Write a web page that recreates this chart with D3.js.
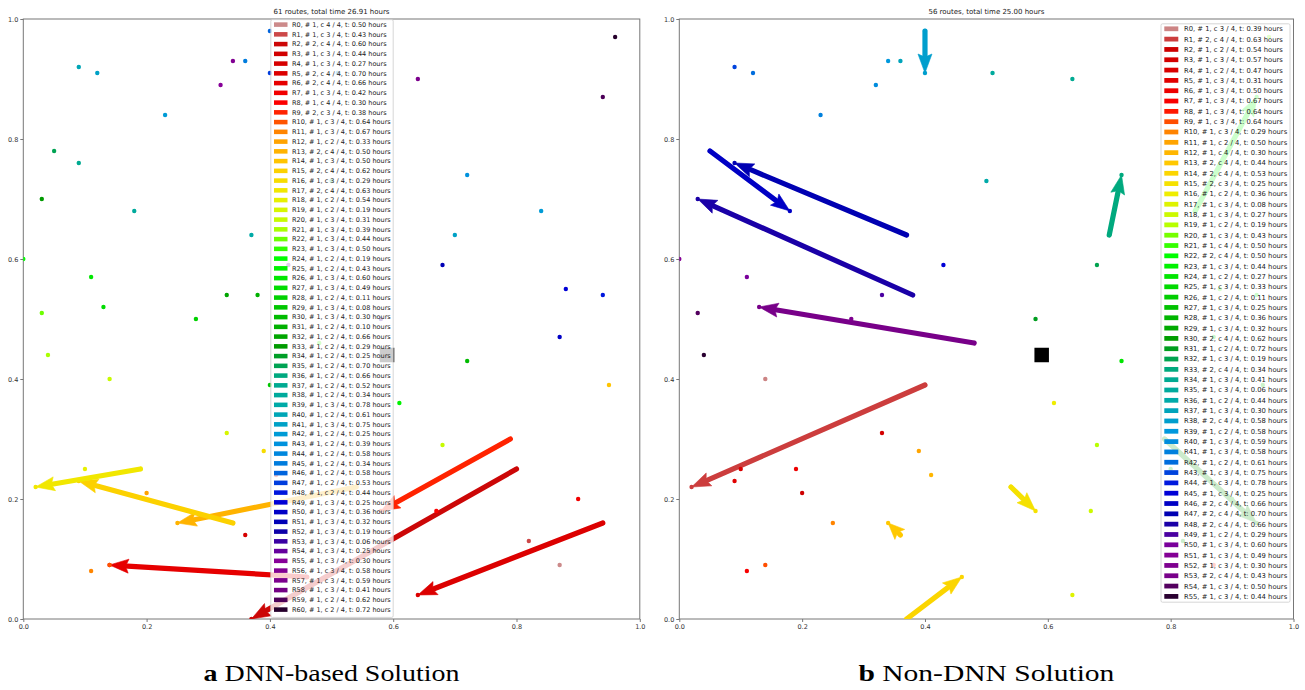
<!DOCTYPE html>
<html><head><meta charset="utf-8">
<script src="https://cdn.jsdelivr.net/npm/d3@7"></script>
<style>body{margin:0;background:#fff;} svg{display:block;}</style>
</head><body>
<svg id="chart" width="1305" height="690"></svg>
<script>
// ---------------- data ----------------
const tickValues = [0, 0.2, 0.4, 0.6, 0.8, 1.0];
const depot = [0.59, 0.44];

// Left panel: DNN-based solution
const leftTitle = "61 routes, total time 26.91 hours";
const leftCaptionTag = "a", leftCaption = "DNN-based Solution";
const leftNum  = [1,1,2,1,1,2,2,1,1,2, 1,1,1,2,1,2,1,2,1,1, 1,1,1,1,1,1,1,1,1,1, 1,1,1,1,1,1,1,1,1,1, 1,1,1,1,1,1,1,1,1,1, 1,1,1,1,1,1,1,1,1,1, 1];
const leftCap  = [4,3,4,3,3,4,4,3,4,3, 3,3,2,4,3,4,3,4,2,2, 3,3,3,3,2,2,3,3,2,3, 3,2,2,2,2,2,2,2,2,3, 2,3,2,2,2,2,2,2,2,3, 3,3,3,3,3,3,3,3,3,2, 2];
const leftTime = [0.50,0.43,0.60,0.44,0.27,0.70,0.66,0.42,0.30,0.38, 0.64,0.67,0.33,0.50,0.50,0.62,0.29,0.63,0.54,0.19,
                  0.31,0.39,0.44,0.50,0.19,0.43,0.60,0.49,0.11,0.08, 0.30,0.10,0.66,0.29,0.25,0.70,0.66,0.52,0.34,0.78,
                  0.61,0.75,0.25,0.39,0.58,0.34,0.58,0.53,0.44,0.25, 0.36,0.32,0.19,0.06,0.25,0.30,0.58,0.59,0.41,0.62, 0.72];
const leftPtX = [0.40,0.36,0.34,0.32,0.40,0.09,0.12,0.23,0.05,0.09,0.03,0.18,0.37,0.00,0.11,0.03,0.13,0.33,0.38,0.28,
                 0.04,0.14,0.40,0.33,0.39,0.10,0.20,0.36,0.11,0.14,0.43,0.48,0.41,0.51,0.50,0.58,0.64,0.72,0.70,0.68,
                 0.88,0.94,0.87,0.72,0.95,0.61,0.68,0.90,0.82,0.87,0.96,0.94,0.84,0.67];
const leftPtY = [0.98,0.93,0.93,0.89,0.91,0.92,0.91,0.84,0.78,0.76,0.70,0.68,0.64,0.60,0.57,0.51,0.52,0.54,0.54,0.50,
                 0.44,0.40,0.39,0.31,0.28,0.25,0.21,0.14,0.08,0.09,0.59,0.46,0.24,0.91,0.73,0.50,0.90,0.74,0.64,0.59,
                 0.55,0.54,0.47,0.43,0.39,0.36,0.29,0.20,0.13,0.09,0.97,0.87,0.68,0.18];
const leftPtR = [46,45,56,55,47,40,41,42,35,37,33,38,39,24,26,22,27,32,31,28,
                 21,20,29,19,16,18,12,4,11,10,54,23,3,44,36,53,57,43,41,51,
                 49,48,50,30,14,25,20,7,1,0,60,59,42,8];
const leftArrR  = [2, 5, 6, 9, 13, 15, 17];
const leftArrX1 = [0.80,0.94,0.46,0.79,0.54,0.34,0.19];
const leftArrY1 = [0.25,0.16,0.07,0.30,0.22,0.16,0.25];
const leftArrX2 = [0.37,0.64,0.14,0.58,0.25,0.09,0.02];
const leftArrY2 = [0.00,0.04,0.09,0.18,0.16,0.23,0.22];

// Right panel: Non-DNN solution
const rightTitle = "56 routes, total time 25.00 hours";
const rightCaptionTag = "b", rightCaption = "Non-DNN Solution";
const rightNum  = [1,2,1,1,1,1,1,1,1,1, 1,1,1,2,2,2,1,1,1,1, 1,1,2,1,1,1,1,1,1,1, 2,1,1,2,1,1,1,1,2,1, 1,1,1,1,1,1,2,2,2,1, 1,1,1,2,1,1];
const rightCap  = [3,4,2,3,2,3,3,3,3,3, 3,2,4,4,4,3,2,3,3,2, 3,4,4,3,2,3,2,3,3,3, 4,2,3,4,3,3,2,3,4,2, 3,3,2,3,3,3,4,4,4,2, 3,3,3,4,3,3];
const rightTime = [0.39,0.63,0.54,0.57,0.47,0.31,0.50,0.67,0.64,0.64, 0.29,0.50,0.30,0.44,0.53,0.25,0.36,0.08,0.27,0.19,
                   0.43,0.50,0.50,0.44,0.27,0.33,0.11,0.25,0.36,0.32, 0.62,0.72,0.19,0.34,0.41,0.06,0.44,0.30,0.58,0.58,
                   0.59,0.58,0.61,0.75,0.78,0.25,0.66,0.70,0.66,0.29, 0.60,0.49,0.30,0.43,0.50,0.44];
const rightPtX = [0.09,0.12,0.23,0.32,0.34,0.36,0.43,0.33,0.00,0.11,0.03,0.04,0.14,0.28,0.33,0.39,0.41,0.10,0.09,0.19,
                  0.20,0.25,0.11,0.14,0.51,0.64,0.50,0.68,0.58,0.72,0.61,0.68,0.67,0.64,
                  0.96,0.88,0.94,0.87,0.95,0.80,0.90,0.82,0.87];
const rightPtY = [0.92,0.91,0.84,0.89,0.93,0.93,0.59,0.54,0.60,0.57,0.51,0.44,0.40,0.50,0.31,0.28,0.24,0.25,0.23,0.25,
                  0.21,0.16,0.08,0.09,0.91,0.90,0.73,0.59,0.50,0.43,0.36,0.29,0.18,0.04,
                  0.97,0.55,0.54,0.47,0.39,0.25,0.20,0.13,0.09];
const rightPtR = [43,42,41,40,39,37,45,49,51,50,54,55,0,52,3,11,12,4,5,6,
                  2,10,7,9,35,34,36,32,31,24,16,19,18,17,
                  20,21,23,25,26,27,28,29,8];
const rightArrR  = [1, 13, 14, 15, 22, 30, 33, 38, 46, 47, 48, 53];
const rightArrX1 = [0.40,0.36,0.37,0.54,0.84,0.79,0.70,0.40,0.05,0.37,0.38,0.48];
const rightArrY1 = [0.39,0.14,0.00,0.22,0.68,0.30,0.64,0.98,0.78,0.64,0.54,0.46];
const rightArrX2 = [0.02,0.34,0.46,0.58,0.94,0.94,0.72,0.40,0.18,0.09,0.03,0.13];
const rightArrY2 = [0.22,0.16,0.07,0.18,0.87,0.16,0.74,0.91,0.68,0.76,0.70,0.52];

// ---------------- colormap (nipy_spectral, reversed sampling) ----------------
const nsR = [0,.4667,.5333,0,0,0,0,0,0,0,0,0,0,.7333,.9333,1,1,1,.8667,.8,.8];
const nsG = [0,0,0,0,0,.4667,.6,.6667,.6667,.6,.7333,.8667,1,1,.9333,.8,.6,0,0,0,.8];
const nsB = [0,.5333,.6,.6667,.8667,.8667,.8667,.6667,.5333,0,0,0,0,0,0,0,0,0,0,0,.8];
const nipy = d3.scaleLinear()
  .domain(d3.range(21).map(i => i / 20))
  .range(d3.range(21).map(i => d3.rgb(nsR[i]*255, nsG[i]*255, nsB[i]*255).toString()))
  .interpolate(d3.interpolateRgb).clamp(true);
const routeColor = (i, n) => nipy(1 - (i + 1) / (n + 1));

// ---------------- layout ----------------
const svg = d3.select("#chart");
const yTop = 19, yBot = 619;
const panels = [
  { x0: 23.3, x1: 639.8, title: leftTitle, tag: leftCaptionTag, cap: leftCaption,
    num: leftNum, capa: leftCap, time: leftTime,
    px: leftPtX, py: leftPtY, pr: leftPtR,
    ar: leftArrR, ax1: leftArrX1, ay1: leftArrY1, ax2: leftArrX2, ay2: leftArrY2,
    lg: { x: 270.8, y: 19.6, w: 122.4, h: 597.8, first: 24.6, row: 9.75, font: 6.5, patchX: 274, patchW: 13.5, textX: 292 } },
  { x0: 679.3, x1: 1293.5, title: rightTitle, tag: rightCaptionTag, cap: rightCaption,
    num: rightNum, capa: rightCap, time: rightTime,
    px: rightPtX, py: rightPtY, pr: rightPtR,
    ar: rightArrR, ax1: rightArrX1, ay1: rightArrY1, ax2: rightArrX2, ay2: rightArrY2,
    lg: { x: 1161, y: 23.8, w: 129, h: 578.4, first: 28.8, row: 10.32, font: 6.8, patchX: 1164.3, patchW: 14, textX: 1184 } }
];

panels.forEach((p, pi) => {
  const n = p.num.length;
  const x = d3.scaleLinear().domain([0, 1]).range([p.x0, p.x1]);
  const y = d3.scaleLinear().domain([0, 1]).range([yBot, yTop]);
  const g = svg.append("g");

  const clipId = "clip" + pi;
  svg.append("clipPath").attr("id", clipId).append("rect")
    .attr("x", p.x0).attr("y", yTop).attr("width", p.x1 - p.x0).attr("height", yBot - yTop);

  // axes
  const xAxis = d3.axisBottom(x).tickValues(tickValues).tickFormat(d3.format(".1f")).tickSize(3).tickPadding(2);
  const yAxis = d3.axisLeft(y).tickValues(tickValues).tickFormat(d3.format(".1f")).tickSize(3).tickPadding(2);
  const gx = g.append("g").attr("transform", `translate(0,${yBot})`).call(xAxis);
  const gy = g.append("g").attr("transform", `translate(${p.x0},0)`).call(yAxis);
  [gx, gy].forEach(a => {
    a.select(".domain").remove();
    a.selectAll(".tick line").attr("stroke", "#555").attr("stroke-width", 0.8);
    a.selectAll(".tick text").attr("font-family", "DejaVu Sans").attr("font-size", 6.5).attr("fill", "#333");
  });

  // spines
  g.append("rect").attr("x", p.x0).attr("y", yTop).attr("width", p.x1 - p.x0).attr("height", yBot - yTop)
    .attr("fill", "none").attr("stroke", "#777").attr("stroke-width", 1);

  // title
  g.append("text").attr("x", (p.x0 + p.x1) / 2).attr("y", 14).attr("text-anchor", "middle")
    .attr("font-family", "DejaVu Sans").attr("font-size", 7).attr("fill", "#222").text(p.title);

  const plot = g.append("g").attr("clip-path", `url(#${clipId})`);

  // arrows
  const headL = 19, headW = 14, shaftW = 5.2;
  p.ar.forEach((r, k) => {
    const col = routeColor(r, n);
    const sx = x(p.ax1[k]), sy = y(p.ay1[k]), ex = x(p.ax2[k]), ey = y(p.ay2[k]);
    const dx = ex - sx, dy = ey - sy, len = Math.hypot(dx, dy);
    const ux = dx / len, uy = dy / len, nx = -uy, ny = ux;
    const hl = Math.min(headL, len * 0.95);
    const bx = ex - ux * hl, by = ey - uy * hl;
    if (len > hl + 0.5) {
      plot.append("line").attr("x1", sx).attr("y1", sy).attr("x2", bx + ux * 1).attr("y2", by + uy * 1)
        .attr("stroke", col).attr("stroke-width", shaftW).attr("stroke-linecap", "round");
    }
    plot.append("path")
      .attr("d", d3.line()([[ex, ey], [bx + nx * headW / 2, by + ny * headW / 2], [bx + ux * 3, by + uy * 3], [bx - nx * headW / 2, by - ny * headW / 2]]) + "Z")
      .attr("fill", col).attr("stroke", col).attr("stroke-width", 0.6).attr("stroke-linejoin", "round");
    plot.append("circle").attr("cx", sx).attr("cy", sy).attr("r", 2.2).attr("fill", col);
    plot.append("circle").attr("cx", ex).attr("cy", ey).attr("r", 2.2).attr("fill", col);
  });

  // customer points
  plot.selectAll("circle.pt").data(d3.range(p.px.length)).join("circle").attr("class", "pt")
    .attr("cx", i => x(p.px[i])).attr("cy", i => y(p.py[i])).attr("r", 2.2)
    .attr("fill", i => routeColor(p.pr[i], n));

  // depot
  const ds = 14.5;
  plot.append("rect").attr("x", x(depot[0]) - ds / 2).attr("y", y(depot[1]) - ds / 2)
    .attr("width", ds).attr("height", ds).attr("fill", "#000");

  // legend
  const L = p.lg;
  const lg = g.append("g");
  lg.append("rect").attr("x", L.x).attr("y", L.y).attr("width", L.w).attr("height", L.h)
    .attr("rx", 1.5).attr("fill", "#fff").attr("fill-opacity", 0.8).attr("stroke", "#ccc").attr("stroke-width", 0.8);
  const rows = lg.selectAll("g.row").data(d3.range(n)).join("g").attr("class", "row")
    .attr("transform", i => `translate(0,${L.first + i * L.row})`);
  rows.append("rect").attr("x", L.patchX).attr("y", -L.font * 0.35).attr("width", L.patchW).attr("height", L.font * 0.7)
    .attr("fill", i => routeColor(i, n));
  rows.append("text").attr("x", L.textX).attr("y", L.font * 0.36)
    .attr("font-family", "DejaVu Sans").attr("font-size", L.font).attr("fill", "#222")
    .text(i => `R${i}, # ${p.num[i]}, c ${p.capa[i]} / 4, t: ${p.time[i].toFixed(2)} hours`);

  // caption (centred under the axes)
  const cap = svg.append("text").attr("x", (p.x0 + p.x1) / 2).attr("y", 681).attr("text-anchor", "middle")
    .attr("font-family", "Liberation Serif").attr("font-size", 24).attr("fill", "#000")
    .attr("textLength", 256).attr("lengthAdjust", "spacingAndGlyphs");
  cap.append("tspan").attr("font-weight", "bold").text(p.tag);
  cap.append("tspan").text(" " + p.cap);
});
</script>
</body></html>
